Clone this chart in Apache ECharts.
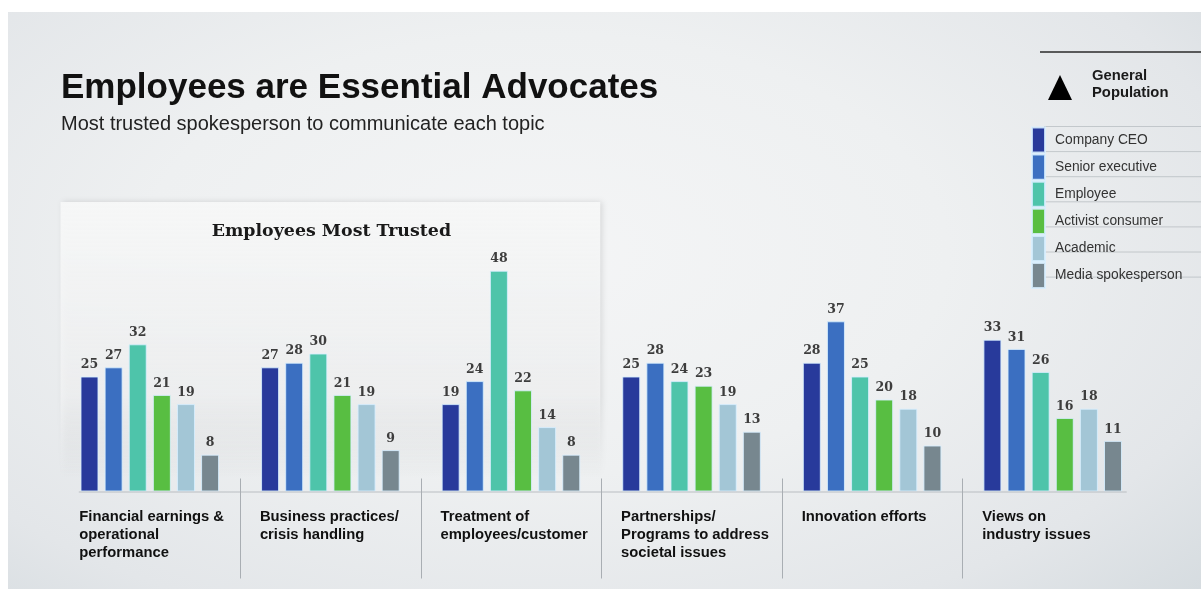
<!DOCTYPE html>
<html>
<head>
<meta charset="utf-8">
<script src="https://cdn.jsdelivr.net/npm/echarts@6/dist/echarts.min.js"></script>
<style>
html,body{margin:0;padding:0;background:#ffffff;}
#bg{position:absolute;left:8px;top:12px;width:1193px;height:577px;
background:radial-gradient(ellipse 75% 85% at 45% 42%, #f4f5f6 0%, #eef0f1 45%, #e3e6e9 80%, #d6dce0 100%);}
#main{position:absolute;left:0;top:0;width:1201px;height:589px;}
</style>
</head>
<body>
<div id="bg"></div>
<div id="main"></div>
<script>
const categories = [
  'Financial earnings &\noperational\nperformance',
  'Business practices/\ncrisis handling',
  'Treatment of\nemployees/customer',
  'Partnerships/\nPrograms to address\nsocietal issues',
  'Innovation efforts',
  'Views on\nindustry issues'
];
const seriesNames = ['Company CEO','Senior executive','Employee','Activist consumer','Academic','Media spokesperson'];
const ceo      = [25, 27, 19, 25, 28, 33];
const senior   = [27, 28, 24, 28, 37, 31];
const employee = [32, 30, 48, 24, 25, 26];
const activist = [21, 21, 22, 23, 20, 16];
const academic = [19, 19, 14, 19, 18, 18];
const media    = [8, 9, 8, 13, 10, 11];
const seriesData = [ceo, senior, employee, activist, academic, media];
const colors = ['#283a9b','#3b6fc1','#4ec4aa','#58be42','#a3c6d6','#77878f'];

const chart = echarts.init(document.getElementById('main'));

const series = seriesNames.map((n, i) => ({
  name: n,
  type: 'bar',
  data: seriesData[i],
  barWidth: 18,
  barGap: '34%',
  itemStyle: { color: colors[i], borderColor: 'rgba(215,238,255,0.85)', borderWidth: 1 },
  label: {
    show: true, position: 'top', distance: 5,
    fontFamily: 'DejaVu Serif', fontWeight: 'bold', fontSize: 12.5, color: '#3d3d3d'
  },
  z: 3
}));

const option = {
  backgroundColor: 'transparent',
  animation: false,
  title: {
    text: 'Employees are Essential Advocates',
    subtext: 'Most trusted spokesperson to communicate each topic',
    left: 61, top: 71, padding: 0,
    itemGap: 8,
    textStyle: { fontFamily: 'Liberation Sans', fontWeight: 'bold', fontSize: 35, color: '#111111' },
    subtextStyle: { fontFamily: 'Liberation Sans', fontSize: 20, color: '#222222' }
  },
  legend: {
    orient: 'vertical',
    left: 1031, top: 126.5, padding: 0,
    itemWidth: 13, itemHeight: 25.1, itemGap: 0,
    icon: 'rect',
    selectedMode: false,
    data: seriesNames,
    textStyle: { fontFamily: 'Liberation Sans', fontSize: 13.8, color: '#333333', padding: [0, 0, 0, 5] }
  },
  grid: { left: 59.5, right: 58, top: 31.5, bottom: 97.5 },
  xAxis: {
    type: 'category',
    data: categories,
    axisLine: { show: false },
    axisTick: { show: false },
    axisLabel: {
      margin: 16,
      interval: 0,
      formatter: v => v.split('\n').map(l => '{a|' + l + '}').join('\n'),
      rich: {
        a: { width: 141, align: 'left', fontFamily: 'Liberation Sans', fontWeight: 'bold', fontSize: 14.8, lineHeight: 18, color: '#111111' }
      }
    }
  },
  yAxis: { type: 'value', min: 0, max: 100, show: false, splitLine: { show: false } },
  series: series
};
chart.setOption(option);

// decorations positioned from the chart's own scales
const y0 = chart.convertToPixel({ yAxisIndex: 0 }, 0);
const cx = categories.map((c, i) => chart.convertToPixel({ xAxisIndex: 0 }, i));
const step = cx[1] - cx[0];
const graphics = [];
// "Employees Most Trusted" panel
graphics.push({
  type: 'rect', z: 0, silent: true,
  shape: { x: cx[0] - step / 2 + 1, y: 202, width: step * 3 - 2, height: y0 - 13 - 202 },
  style: {
    fill: new echarts.graphic.LinearGradient(0, 0, 0, 1, [
      { offset: 0, color: 'rgba(246,247,247,1)' },
      { offset: 0.7, color: 'rgba(242,243,244,0.8)' },
      { offset: 1, color: 'rgba(238,240,241,0)' }
    ]),
    shadowBlur: 6, shadowColor: 'rgba(0,0,0,0.12)', shadowOffsetX: 2
  }
});
graphics.push({
  type: 'text', z: 5, silent: true,
  style: {
    x: (cx[0] + cx[2]) / 2 + 1, y: 231, text: 'Employees Most Trusted',
    fontFamily: 'DejaVu Serif', fontWeight: 'bold', fontSize: 17.4, fill: '#1a1a1a',
    align: 'center', verticalAlign: 'middle'
  }
});
// baseline
graphics.push({
  type: 'line', z: 4, silent: true,
  shape: { x1: cx[0] - 71, y1: y0 + 0.5, x2: cx[5] + 74, y2: y0 + 0.5 },
  style: { stroke: '#b9bdc1', lineWidth: 1.2 }
});
// dividers
for (let i = 1; i < categories.length; i++) {
  const x = Math.round((cx[i - 1] + cx[i]) / 2) + 0.5;
  graphics.push({
    type: 'line', z: 4, silent: true,
    shape: { x1: x, y1: y0 - 13, x2: x, y2: y0 + 87 },
    style: { stroke: '#a9aeb3', lineWidth: 1 }
  });
}
// General Population key
graphics.push({
  type: 'line', z: 4, silent: true,
  shape: { x1: 1040, y1: 52, x2: 1201, y2: 52 },
  style: { stroke: '#2a2a2a', lineWidth: 1.5 }
});
graphics.push({
  type: 'polygon', z: 4, silent: true,
  shape: { points: [[1060, 75], [1072, 100], [1048, 100]] },
  style: { fill: '#000000' }
});
graphics.push({
  type: 'text', z: 4, silent: true,
  style: {
    x: 1092, y: 84, text: 'General\nPopulation', lineHeight: 17,
    fontFamily: 'Liberation Sans', fontWeight: 'bold', fontSize: 14.8, fill: '#1a1a1a',
    align: 'left', verticalAlign: 'middle'
  }
});
// legend row separators
for (let r = 0; r <= seriesNames.length; r++) {
  const yy = 126.5 + r * 25.1;
  graphics.push({
    type: 'line', z: 1, silent: true,
    shape: { x1: 1044, y1: yy, x2: 1201, y2: yy },
    style: { stroke: 'rgba(170,176,182,0.6)', lineWidth: 1 }
  });
}
chart.setOption({ graphic: graphics });
</script>
</body>
</html>
